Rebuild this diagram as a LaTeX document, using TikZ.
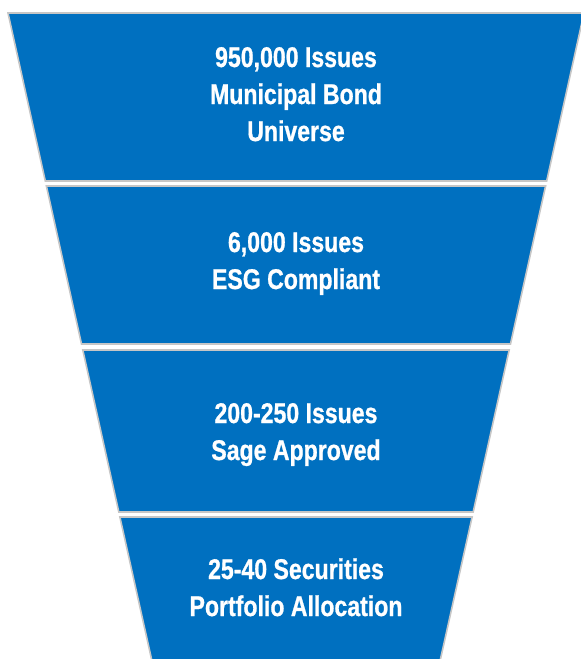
\documentclass[tikz,border=0pt]{standalone}
\usepackage{fontspec}
\newfontfamily\funnelfont{Liberation Sans}[FakeStretch=0.81,BoldFeatures={FakeBold=0.8}]
\definecolor{funnelblue}{HTML}{0070C0}
\definecolor{funnelgray}{HTML}{C6C6C6}
\begin{document}
\begin{tikzpicture}[x=1pt,y=-1pt,
  seg/.style={fill=funnelblue, draw=funnelgray, line width=1.6pt, line join=miter},
  lbl/.style={text=white, font=\funnelfont\bfseries\fontsize{28.5}{34}\selectfont, anchor=base, inner sep=0pt}]
\clip (0,0) rectangle (581,659);
\useasboundingbox (0,0) rectangle (581,659);
% funnel segments
\path[seg] (8,13) -- (584,13) -- (546.7,181) -- (45.3,181) -- cycle;
\path[seg] (46.4,186) -- (545.6,186) -- (510.5,344) -- (81.5,344) -- cycle;
\path[seg] (82.8,350) -- (509.2,350) -- (473.2,512) -- (118.8,512) -- cycle;
\path[seg] (119.9,517) -- (472.1,517) -- (436.5,677) -- (155.5,677) -- cycle;
% labels
\node[lbl] (l1a) at (296,67) {950,000 Issues};
\node[lbl] (l1b) at (296,104) {Municipal Bond};
\node[lbl] (l1c) at (296,141) {Universe};
\node[lbl] (l2a) at (296,252) {6,000 Issues};
\node[lbl] (l2b) at (296,289) {ESG Compliant};
\node[lbl] (l3a) at (296,423) {200-250 Issues};
\node[lbl] (l3b) at (296,460) {Sage Approved};
\node[lbl] (l4a) at (296,579) {25-40 Securities};
\node[lbl] (l4b) at (296,616) {Portfolio Allocation};
\end{tikzpicture}
\end{document}
